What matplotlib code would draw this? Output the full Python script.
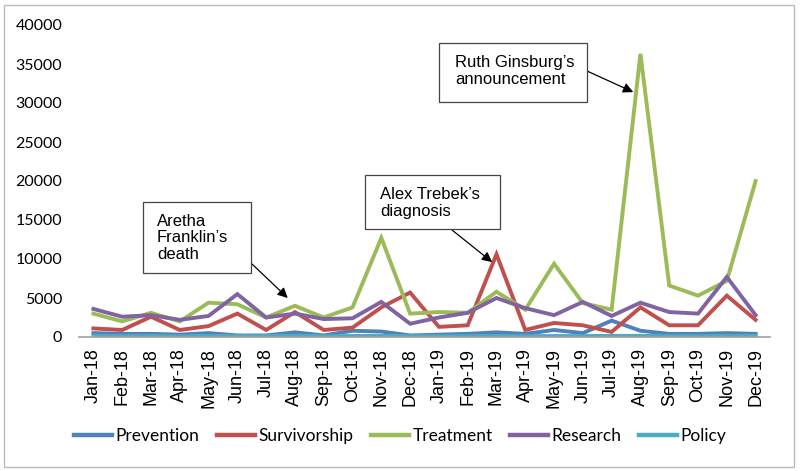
import matplotlib
matplotlib.use("Agg")
import matplotlib.pyplot as plt
from matplotlib.patches import Rectangle

months = ["Jan-18", "Feb-18", "Mar-18", "Apr-18", "May-18", "Jun-18", "Jul-18", "Aug-18",
          "Sep-18", "Oct-18", "Nov-18", "Dec-18", "Jan-19", "Feb-19", "Mar-19", "Apr-19",
          "May-19", "Jun-19", "Jul-19", "Aug-19", "Sep-19", "Oct-19", "Nov-19", "Dec-19"]

prevention = [500, 400, 400, 300, 500, 200, 200, 600, 200, 800, 700, 200,
              300, 400, 600, 400, 900, 500, 2100, 800, 400, 400, 500, 400]
survivorship = [1100, 900, 2600, 900, 1400, 3000, 900, 3200, 900, 1200, 3800, 5700,
                1300, 1500, 10600, 900, 1800, 1500, 650, 3800, 1500, 1500, 5300, 2200]
treatment = [3000, 2000, 3100, 2000, 4400, 4200, 2500, 4000, 2500, 3800, 12700, 3000,
             3200, 3100, 5800, 3500, 9400, 4350, 3500, 36300, 6600, 5300, 7200, 20000]
research = [3600, 2600, 2800, 2200, 2700, 5500, 2500, 3000, 2300, 2400, 4500, 1700,
            2500, 3100, 5000, 3700, 2800, 4500, 2700, 4400, 3200, 3000, 7700, 2800]
policy = [150, 120, 130, 100, 140, 110, 120, 160, 100, 130, 150, 110,
          100, 120, 140, 110, 130, 120, 150, 140, 110, 120, 130, 150]

series = [("Prevention", prevention, "#4F81BD"),
          ("Survivorship", survivorship, "#C0504D"),
          ("Treatment", treatment, "#9BBB59"),
          ("Research", research, "#8064A2"),
          ("Policy", policy, "#4BACC6")]

# annotations: text, box (left, top, right, bottom) in pixels, text-left px, text-center-y px, arrow start px, arrow target (month index, value)
annotations = [
    ("Aretha\nFranklin\u2019s\ndeath", (143, 202, 251, 273), 157, 238, (252, 264), (6.75, 5000)),
    ("Alex Trebek\u2019s\ndiagnosis", (365, 175, 500, 229), 380, 203, (452, 230), (13.85, 9600)),
    ("Ruth Ginsburg\u2019s\nannouncement", (439, 43, 587, 102), 455, 71, (587, 71), (18.75, 31400)),
]

W, H = 800, 471
plt.rcParams['font.family'] = ['Lato', 'DejaVu Sans']

fig = plt.figure(figsize=(W / 100, H / 100), dpi=100)
ax = fig.add_axes([79 / W, 1 - 337 / H, (770 - 79) / W, (337 - 25) / H])

x = list(range(len(months)))
for name, vals, col in series:
    ax.plot(x, vals, color=col, lw=2.8, label=name, solid_joinstyle='miter')

ax.set_xlim(-0.5, len(months) - 0.5)
ax.set_ylim(0, 40000)
ax.set_yticks(range(0, 40001, 5000))
ax.set_xticks(x)
ax.set_xticklabels(months, rotation=90, fontsize=13, family=['Liberation Sans', 'DejaVu Sans'])
ax.tick_params(axis='y', labelsize=11.5, length=0, pad=12)
ax.tick_params(axis='x', length=0, pad=8)
for s in ['top', 'right', 'left']:
    ax.spines[s].set_visible(False)
ax.spines['bottom'].set_color('#A0A0A0')
ax.spines['bottom'].set_linewidth(1.2)

for text, (l, t, r, b), tx, ty, (sx, sy), target in annotations:
    fig.patches.append(Rectangle((l / W, 1 - b / H), (r - l) / W, (b - t) / H,
                                 transform=fig.transFigure, fc='white', ec='#444444',
                                 lw=0.9, zorder=5))
    fig.text(tx / W, 1 - ty / H, text, ha='left', va='center', fontsize=12,
             family=['Liberation Sans', 'DejaVu Sans'], linespacing=1.1, zorder=6)
    ax.annotate("", xy=target, xycoords='data', xytext=(sx / W, 1 - sy / H),
                textcoords='figure fraction',
                arrowprops=dict(arrowstyle='-|>', color='black', lw=0.9,
                                mutation_scale=15, shrinkA=0, shrinkB=0))

leg = fig.legend(loc='center', bbox_to_anchor=(0.5, 1 - 436 / H), ncol=5, frameon=False,
                 fontsize=12.5, handlelength=2.2, handletextpad=0.2, columnspacing=1.0)
for h in leg.get_lines():
    h.set_linewidth(3.2)

fig.patches.append(Rectangle((4 / W, 4 / H), (W - 10) / W, (H - 9) / H, transform=fig.transFigure,
                             fill=False, ec='#BBBBBB', lw=1))

fig.savefig("out.png", dpi=100)
